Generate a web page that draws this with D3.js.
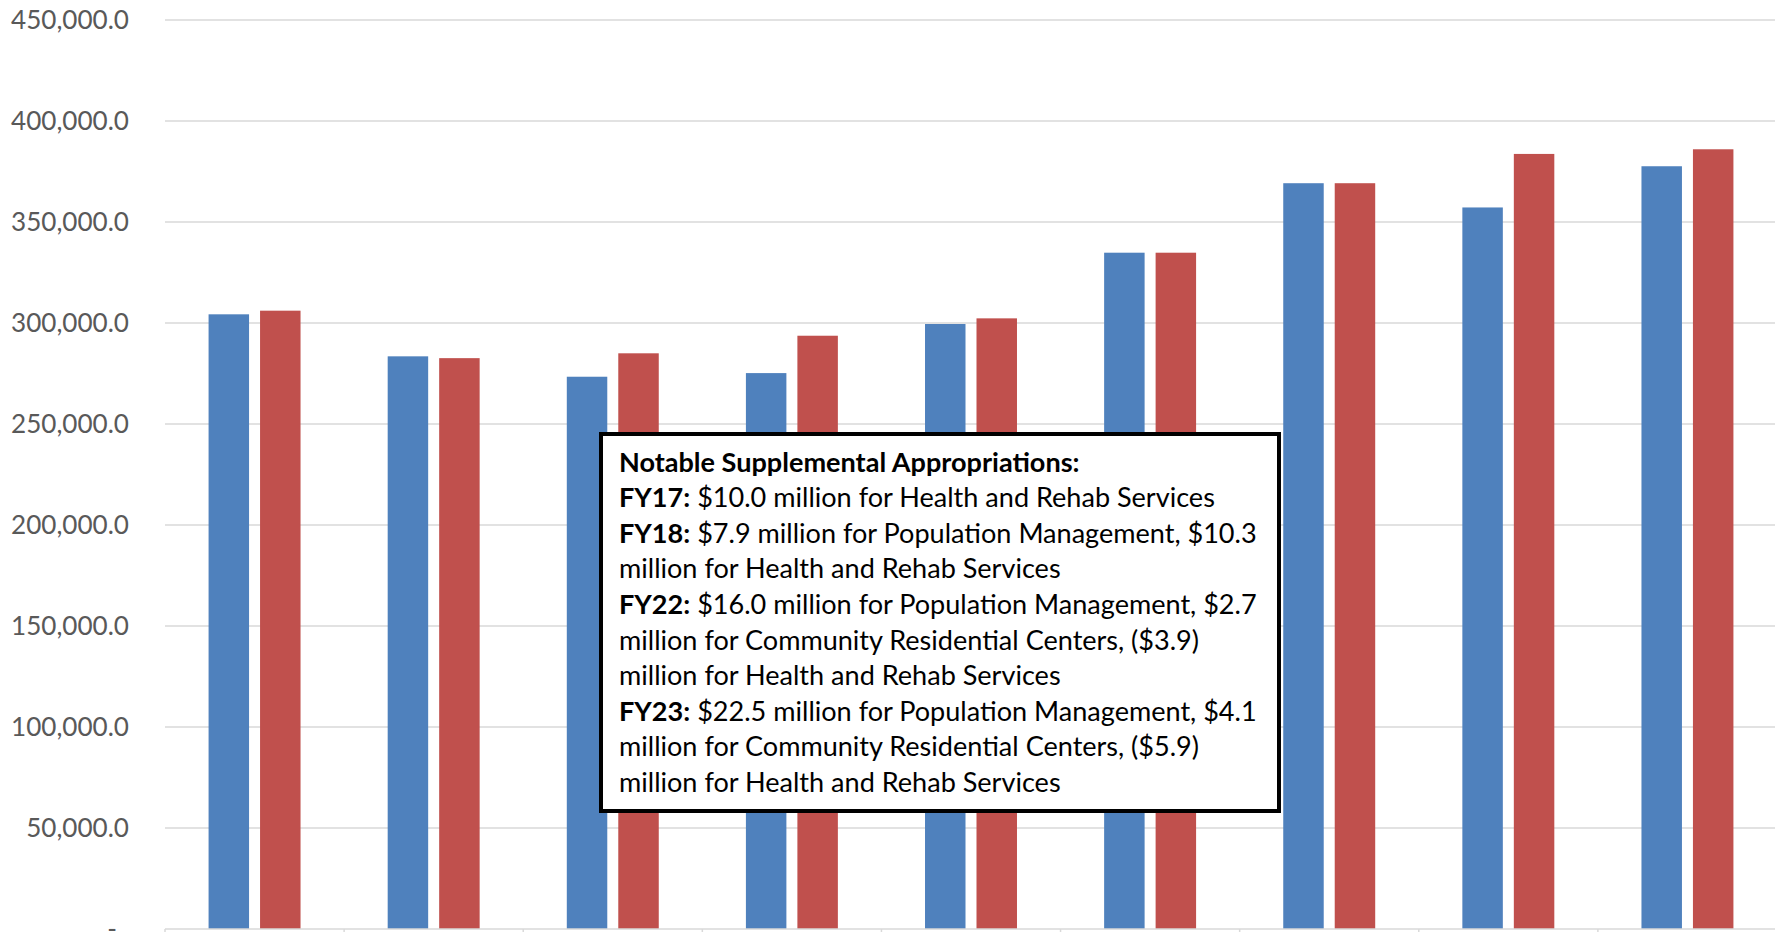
<!DOCTYPE html>
<html>
<head>
<meta charset="utf-8">
<script src="https://cdn.jsdelivr.net/npm/d3@7"></script>
<style>
  body { margin: 0; background: #fff; overflow: hidden; }
  svg { display: block; }
</style>
</head>
<body>
<div id="chart"></div>
<script>
// chart data (thousands of dollars) - x labels are cut off in the picture
const categories = ["FY15", "FY16", "FY17", "FY18", "FY19", "FY20", "FY21", "FY22", "FY23"];
const seriesNames = ["Original Appropriation", "Final Appropriation"];
const originalValues = [304300, 283500, 273400, 275200, 299500, 334800, 369200, 357200, 377600];
const finalValues = [306100, 282600, 285000, 293700, 302300, 334800, 369200, 383700, 386000];
const yTicks = [0, 50000, 100000, 150000, 200000, 250000, 300000, 350000, 400000, 450000];
const colors = ["#4f81bd", "#c0504d"];

const noteLines = [
  [["Notable Supplemental Appropriations:", true]],
  [["FY17:", true], [" $10.0 million for Health and Rehab Services", false]],
  [["FY18:", true], [" $7.9 million for Population Management, $10.3", false]],
  [["million for Health and Rehab Services", false]],
  [["FY22:", true], [" $16.0 million for Population Management, $2.7", false]],
  [["million for Community Residential Centers, ($3.9)", false]],
  [["million for Health and Rehab Services", false]],
  [["FY23:", true], [" $22.5 million for Population Management, $4.1", false]],
  [["million for Community Residential Centers, ($5.9)", false]],
  [["million for Health and Rehab Services", false]]
];

const width = 1775, height = 932;
const margin = { left: 165, right: 0, top: 20, bottom: 3 };
const font = "Lato, 'Open Sans', sans-serif";

const data = categories.map((c, i) => ({ cat: c, values: [originalValues[i], finalValues[i]] }));

const svg = d3.select("#chart").append("svg").attr("width", width).attr("height", height);

const x = d3.scaleBand().domain(categories).range([margin.left, width - margin.right + 2]);
const y = d3.scaleLinear().domain([0, 450000]).range([height - margin.bottom, margin.top]);
const barW = x.bandwidth() * 0.226;
const barGap = 11;
const xs = d3.scaleOrdinal().domain([0, 1]).range([
  (x.bandwidth() - 2 * barW - barGap) / 2,
  (x.bandwidth() - 2 * barW - barGap) / 2 + barW + barGap
]);

// gridlines
svg.append("g")
  .selectAll("line")
  .data(yTicks.filter(d => d > 0))
  .join("line")
  .attr("x1", margin.left)
  .attr("x2", width)
  .attr("y1", d => y(d))
  .attr("y2", d => y(d))
  .attr("stroke", "#d9d9d9")
  .attr("stroke-width", 1.5);

// y labels
const fmt = d3.format(",.1f");
const yLab = svg.append("g")
  .selectAll("text")
  .data(yTicks)
  .join("text")
  .attr("x", d => d === 0 ? 117 : 129)
  .attr("y", d => y(d))
  .attr("dy", "0.35em")
  .attr("text-anchor", "end")
  .attr("font-family", font)
  .attr("font-size", 26)
  .attr("fill", "#595959")
  .text(d => d === 0 ? "-" : fmt(d));

// fit the label font to the measured width of the original
const probe = yLab.filter(d => d === 450000).node();
const yFs = 26 * 118 / probe.getComputedTextLength();
yLab.attr("font-size", yFs);

// bars
svg.append("g")
  .selectAll("g")
  .data(data)
  .join("g")
  .attr("transform", d => `translate(${x(d.cat)},0)`)
  .selectAll("rect")
  .data(d => d.values.map((v, i) => ({ v, i })))
  .join("rect")
  .attr("x", d => xs(d.i))
  .attr("width", barW)
  .attr("y", d => y(d.v))
  .attr("height", d => y(0) - y(d.v))
  .attr("fill", d => colors[d.i]);

// x axis line and ticks
const xAxis = svg.append("g").attr("transform", `translate(0,${y(0)})`);
xAxis.append("line")
  .attr("x1", margin.left).attr("x2", width)
  .attr("stroke", "#d9d9d9").attr("stroke-width", 1.5);
xAxis.selectAll("line.tick")
  .data(categories)
  .join("line")
  .attr("class", "tick")
  .attr("x1", d => x(d)).attr("x2", d => x(d))
  .attr("y1", 0).attr("y2", 8)
  .attr("stroke", "#d9d9d9").attr("stroke-width", 1.5);

// annotation box
const note = svg.append("g");
note.append("rect")
  .attr("x", 601).attr("y", 434)
  .attr("width", 678).attr("height", 377)
  .attr("fill", "#fff")
  .attr("stroke", "#000")
  .attr("stroke-width", 4);

const noteText = note.append("text")
  .attr("font-family", font)
  .attr("font-size", 26)
  .attr("fill", "#000");

noteLines.forEach((parts, i) => {
  const t = noteText.append("tspan").attr("x", 619).attr("y", 471.5 + i * 35.6);
  parts.forEach(([s, b], j) => {
    const sp = j === 0 ? t : noteText.append("tspan");
    if (j === 0) sp.text(s); else sp.text(s);
    sp.attr("font-weight", b ? 700 : 400);
  });
});

// scale annotation font to match the original line width
const lineNode = noteText.selectAll("tspan").filter((d, i, n) => n[i].textContent.startsWith(" $7.9")).node();
const fy18 = noteText.selectAll("tspan").filter((d, i, n) => n[i].textContent === "FY18:").node();
const w = fy18.getComputedTextLength() + lineNode.getComputedTextLength();
noteText.attr("font-size", 26 * 638 / w);
</script>
</body>
</html>
